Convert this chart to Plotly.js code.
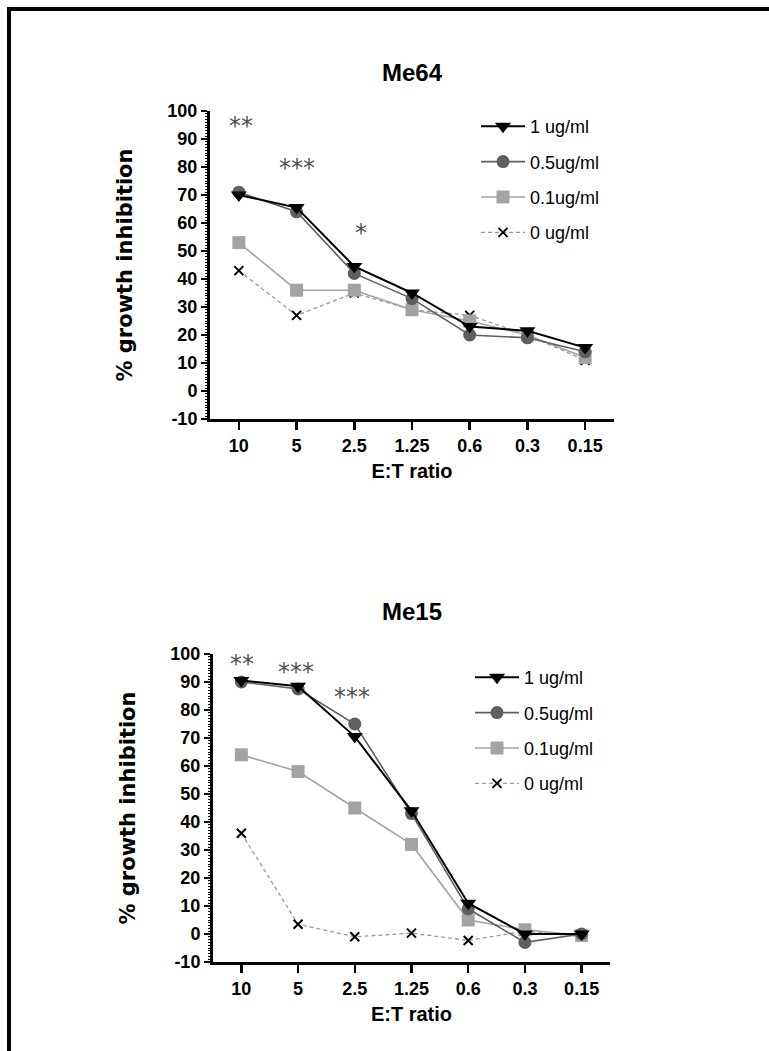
<!DOCTYPE html>
<html>
<head>
<meta charset="utf-8">
<script src="https://cdn.plot.ly/plotly-3.0.1.min.js"></script>
<style>
  html, body { margin: 0; padding: 0; background: #fff; }
  #wrap { position: relative; width: 769px; height: 1051px; overflow: hidden; }
  #chart { position: absolute; left: 0; top: 0; width: 769px; height: 1051px; }
  #frame { position: absolute; left: 7px; top: 7px; width: 800px; height: 1100px;
           border-top: 4px solid #000; border-left: 4px solid #000; pointer-events: none; }
</style>
</head>
<body>
<div id="wrap">
  <div id="chart"></div>
  <div id="frame"></div>
</div>
<script>
// ---- data ----
const categories = ['10', '5', '2.5', '1.25', '0.6', '0.3', '0.15'];
const seriesNames = ['1 ug/ml', '0.5ug/ml', '0.1ug/ml', '0 ug/ml'];

const me64_1ug  = [70, 65.5, 44.5, 35, 23, 21.5, 15.5];
const me64_05ug = [71, 64, 42, 33, 20, 19, 14];
const me64_01ug = [53, 36, 36, 29, 25, 20, 12];
const me64_0ug  = [43, 27, 35, 29, 27, 20, 11];

const me15_1ug  = [90.5, 88.5, 70.5, 44, 11, 0, 0];
const me15_05ug = [90, 87.5, 75, 43, 9, -3, 0];
const me15_01ug = [64, 58, 45, 32, 5, 1.5, -0.5];
const me15_0ug  = [36, 3.5, -1, 0.3, -2.3, 1, -1];

const panelTitles = ['Me64', 'Me15'];
const xTitle = 'E:T ratio';
const yTitle = '% growth inhibition';
const yTicks = [-10, 0, 10, 20, 30, 40, 50, 60, 70, 80, 90, 100];

// significance marks: category + label
const me64SigCats = ['10', '5', '2.5'];
const me64SigText = ['**', '***', '*'];
const me15SigCats = ['10', '5', '2.5'];
const me15SigText = ['**', '***', '***'];

// ---- styles ----
const styles = [
  {symbol: 'triangle-down', size: 14, color: '#000000', lineColor: '#000000', width: 2, dash: 'solid'},
  {symbol: 'circle', size: 13, color: '#5f5f5f', lineColor: '#5f5f5f', width: 1.6, dash: 'solid'},
  {symbol: 'square', size: 13, color: '#a3a3a3', lineColor: '#a3a3a3', width: 1.6, dash: 'solid'},
  {symbol: 'x-thin', size: 9, color: '#000000', lineColor: '#9a9a9a', width: 1.3, dash: '4px,3px'}
];

function makeTraces(seriesList, xa, ya, legendId) {
  return seriesList.map((vals, i) => {
    const s = styles[i];
    const marker = {symbol: s.symbol, size: s.size, color: s.color};
    if (s.symbol === 'x-thin') marker.line = {width: 2, color: s.color};
    else marker.line = {width: 0};
    return {
      type: 'scatter', mode: 'lines+markers',
      x: categories, y: vals, name: seriesNames[i],
      xaxis: xa, yaxis: ya, legend: legendId, legendgroup: legendId + i,
      legendrank: 100 + i,
      line: {color: s.lineColor, width: s.width, dash: s.dash},
      marker: marker, cliponaxis: false
    };
  });
}

// drawn in reverse so the 1 ug/ml series sits on top
const traces = [
  ...makeTraces([me64_1ug, me64_05ug, me64_01ug, me64_0ug], 'x', 'y', 'legend').reverse(),
  ...makeTraces([me15_1ug, me15_05ug, me15_01ug, me15_0ug], 'x2', 'y2', 'legend2').reverse()
];

const W = 769, H = 1051;
const px = v => v / W;
const py = v => 1 - v / H;

const tickFont = {family: 'Liberation Sans, Arial, sans-serif', size: 18, color: '#000', weight: 'bold'};

function xAxis(domain, anchor) {
  return {
    domain: domain, anchor: anchor, type: 'category', range: [-0.5, 6.5],
    showline: true, linewidth: 3, linecolor: '#000', mirror: false,
    ticks: 'outside', ticklen: 8, tickwidth: 2.5, tickcolor: '#000',
    showgrid: false, zeroline: false, tickfont: tickFont,
    title: {text: xTitle, font: {family: 'Liberation Sans, Arial, sans-serif', size: 20, color: '#000', weight: 'bold'}, standoff: 10}
  };
}
function yAxis(domain, anchor) {
  return {
    domain: domain, anchor: anchor, range: [-10, 100],
    tickvals: yTicks, ticktext: yTicks.map(String),
    showline: true, linewidth: 3, linecolor: '#000',
    ticks: 'outside', ticklen: 6, tickwidth: 2.5, tickcolor: '#000',
    minor: {dtick: 1, ticklen: 2, tickwidth: 1, tickcolor: '#000', ticks: 'outside'},
    showgrid: false, zeroline: false, tickfont: tickFont,
    title: {text: yTitle, font: {family: 'DejaVu Sans, Verdana, sans-serif', size: 21, color: '#000', weight: 'bold'}, standoff: 30}
  };
}

const legendFont = {family: 'Liberation Sans, Arial, sans-serif', size: 18, color: '#000'};
function legendCfg(xp, yp) {
  return {x: xp, y: yp, xanchor: 'left', yanchor: 'top', font: legendFont,
          bgcolor: 'rgba(0,0,0,0)', borderwidth: 0, tracegroupgap: 9,
          traceorder: 'grouped', itemwidth: 44};
}

function sigAnn(cats, texts, xa, ya, yVals, xShifts) {
  return cats.map((c, i) => ({
    x: categories.indexOf(c), y: yVals[i], xref: xa, yref: ya, text: texts[i], showarrow: false,
    xshift: xShifts[i], yanchor: 'middle',
    font: {family: 'DejaVu Sans, sans-serif', size: 24, color: '#505050'}
  }));
}

const annotations = [
  {x: px(412), y: py(72), xref: 'paper', yref: 'paper', text: panelTitles[0], showarrow: false,
   yanchor: 'middle', xanchor: 'center',
   font: {family: 'Liberation Sans, Arial, sans-serif', size: 24, color: '#000', weight: 'bold'}},
  {x: px(412), y: py(611), xref: 'paper', yref: 'paper', text: panelTitles[1], showarrow: false,
   yanchor: 'middle', xanchor: 'center',
   font: {family: 'Liberation Sans, Arial, sans-serif', size: 24, color: '#000', weight: 'bold'}},
  ...sigAnn(me64SigCats, me64SigText, 'x', 'y', [94.5, 79.5, 56.5], [2, 0, 7]),
  ...sigAnn(me15SigCats, me15SigText, 'x2', 'y2', [96.5, 93.5, 84.5], [1, -2, -3])
];

const layout = {
  width: W, height: H,
  margin: {l: 0, r: 0, t: 0, b: 0},
  paper_bgcolor: '#fff', plot_bgcolor: '#fff',
  showlegend: true,
  xaxis: xAxis([px(210), px(614)], 'y'),
  yaxis: yAxis([py(419), py(111)], 'x'),
  xaxis2: xAxis([px(213), px(610)], 'y2'),
  yaxis2: yAxis([py(962), py(654)], 'x2'),
  legend: legendCfg(px(476), py(108)),
  legend2: legendCfg(px(470), py(659)),
  annotations: annotations
};

Plotly.newPlot('chart', traces, layout, {displayModeBar: false, staticPlot: true});
</script>
</body>
</html>
